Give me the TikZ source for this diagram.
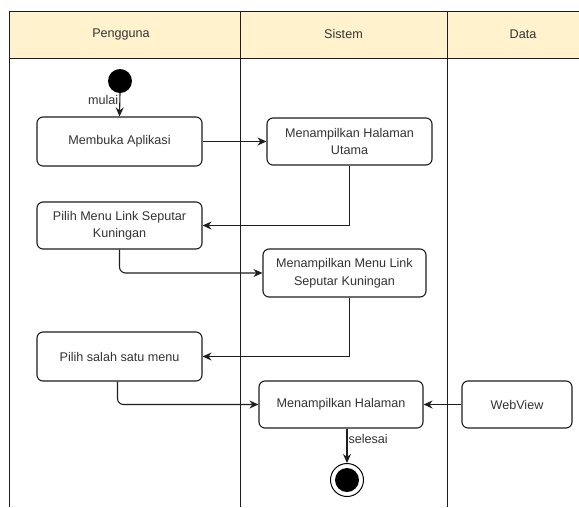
\documentclass[tikz,border=0pt]{standalone}
\usepackage{fontspec}
\setmainfont{Liberation Sans}
\usetikzlibrary{arrows.meta}
\definecolor{headfill}{HTML}{FFF2CC}
\definecolor{inkline}{HTML}{1E1E1E}
\definecolor{inktext}{HTML}{333333}
\begin{document}
\begin{tikzpicture}[x=1pt,y=-1pt,
  action/.style={draw=inkline, line width=1.1pt, rounded corners=6pt, fill=white,
    align=center, text=inktext, inner sep=2pt,
    font=\fontsize{12.6}{17.5}\selectfont},
  flow/.style={draw=inkline, line width=1.1pt, -{Stealth[length=9pt,width=8pt]}},
  lane/.style={draw=inkline, line width=0.9pt},
  headtext/.style={text=inktext, font=\fontsize{12.6}{15}\selectfont},
  lbl/.style={text=inktext, font=\fontsize{12.6}{15}\selectfont, inner sep=1pt}]
\useasboundingbox (0,0) rectangle (579,507);
\fill[white] (0,0) rectangle (579,507);

% swimlane header and lane borders
\fill[headfill] (9,11) rectangle (579,58);
\draw[lane] (579,11) -- (9,11) -- (9,507);
\draw[lane] (9,58) -- (579,58);
\draw[lane] (240,11) -- (240,507);
\draw[lane] (447,11) -- (447,507);
\node[headtext] (hpengguna) at (121,34) {Pengguna};
\node[headtext] (hsistem) at (343.5,34) {Sistem};
\node[headtext] (hdata) at (523,34) {Data};

% start and end states
\node[circle, fill=black, minimum size=24pt, inner sep=0pt] (start) at (120,81) {};
\node[circle, draw=black, line width=1pt, fill=white, minimum size=33pt, inner sep=0pt] (finish) at (347,480) {};
\fill[black] (finish.center) circle (12pt);

% actions
\node[action, minimum width=165pt, minimum height=49pt] (b1) at (119.5,141.5) {Membuka Aplikasi};
\node[action, minimum width=165pt, minimum height=47pt] (b2) at (349.5,141.5) {Menampilkan Halaman\\Utama};
\node[action, minimum width=165pt, minimum height=47pt] (b3) at (119.5,225.5) {Pilih Menu Link Seputar\\Kuningan};
\node[action, minimum width=163pt, minimum height=48pt] (b4) at (344.5,273) {Menampilkan Menu Link\\Seputar Kuningan};
\node[action, minimum width=165pt, minimum height=49pt] (b5) at (119.5,356.5) {Pilih salah satu menu};
\node[action, minimum width=164pt, minimum height=47pt] (b6) at (341,404.5) {Menampilkan Halaman};
\node[action, minimum width=110pt, minimum height=47pt] (b7) at (517,404.5) {WebView};

% flows
\draw[flow] (start.south) -- node[lbl, left, pos=0.3] {mulai} (b1.north);
\draw[flow] (b1.east) -- (b2.west);
\draw[flow] (b2.south) |- (b3.east);
\draw[flow, rounded corners=6pt] (b3.south) |- (b4.west);
\draw[flow] ([xshift=5pt]b4.south) |- (b5.east);
\draw[flow, rounded corners=6pt] ([xshift=-2pt]b5.south) |- (b6.west);
\draw[flow] (b7.west) -- (b6.east);
\draw[flow] (b6.south -| finish.north) -- node[lbl, right, pos=0.3] {selesai} (finish.north);
\end{tikzpicture}
\end{document}
